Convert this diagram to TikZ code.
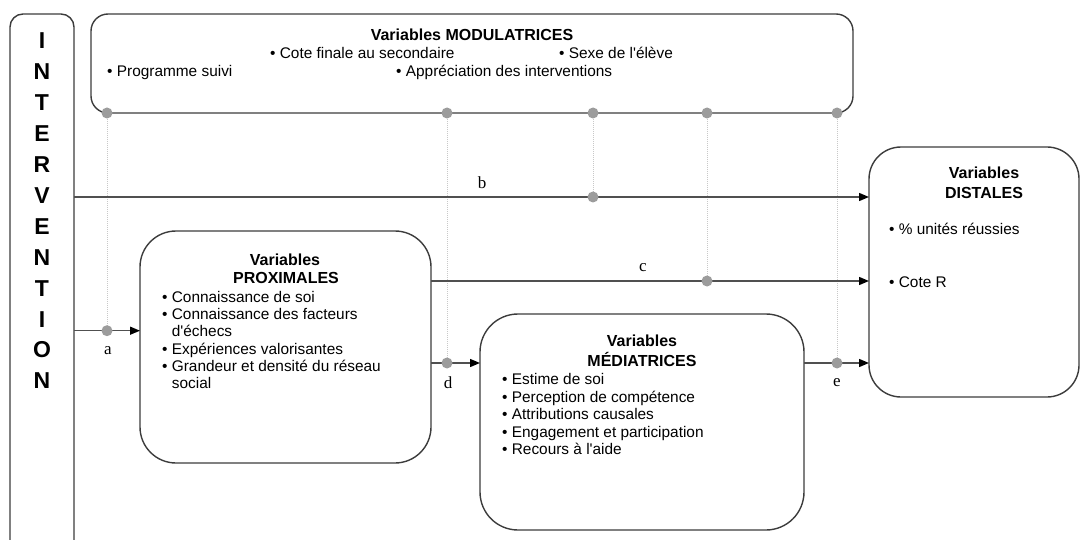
\documentclass[tikz,border=0pt]{standalone}
\usepackage{fontspec}
\setmainfont{Liberation Sans}
\newfontfamily\serifl{Liberation Serif}
\usetikzlibrary{arrows.meta}
\definecolor{boxc}{HTML}{3C3C3C}
\definecolor{linec}{HTML}{505050}
\definecolor{dotc}{HTML}{9C9C9C}
\definecolor{dashc}{HTML}{C8C8C8}
\newcommand{\apos}{\textquotesingle}
\begin{document}
\begin{tikzpicture}[x=1pt,y=-1pt,
  vbox/.style={draw=boxc, line width=1.4pt, rounded corners=#1, inner sep=0pt, outer sep=0pt, fill=white, anchor=north west},
  conn/.style={draw=linec, line width=1.4pt, -{Triangle[length=10pt,width=8pt,color=black]}},
  vline/.style={draw=dashc, line width=0.9pt, dash pattern=on 1pt off 1pt},
  dot/.style={circle, fill=dotc, inner sep=0pt, minimum size=11pt},
  txt/.style={font={\fontsize{15.4}{17}\selectfont}, inner sep=0pt, anchor=base west},
  ttl/.style={font={\fontsize{16}{18}\selectfont\bfseries}, inner sep=0pt, anchor=base},
  lbl/.style={font={\serifl\fontsize{17}{19}\selectfont}, inner sep=0pt},
  letter/.style={font={\fontsize{23}{25}\selectfont\bfseries}, inner sep=0pt}]
\useasboundingbox (0,0) rectangle (1081,540);
% boxes
\begin{scope}
\clip (0,0) rectangle (1081,540);
\node[vbox=13pt, minimum width=64pt, minimum height=570pt] (intervention) at (10,14) {};
\end{scope}
\node[vbox=17pt, minimum width=762pt, minimum height=99pt] (mod) at (91,14) {};
\node[vbox=36pt, minimum width=291pt, minimum height=232pt] (prox) at (140,231) {};
\node[vbox=38pt, minimum width=324pt, minimum height=216pt] (med) at (480,314) {};
\node[vbox=32pt, minimum width=210pt, minimum height=250pt] (dist) at (869,147) {};
% INTERVENTION letters
\foreach \l [count=\i] in {I,N,T,E,R,V,E,N,T,I,O,N}
  \node[letter] (L\i) at (42,{41+30.9*(\i-1)}) {\l};
% modulatrices text
\node[ttl] (mtitle) at (472,40.7) {Variables MODULATRICES};
\node[txt] (mcote) at (270,59) {• Cote finale au secondaire};
\node[txt] (msexe) at (559,59) {• Sexe de l\apos élève};
\node[txt] (mprog) at (107,76.5) {• Programme suivi};
\node[txt] (mappr) at (396,76.5) {• Appréciation des interventions};
% proximales text
\node[ttl] (pt1) at (285,265.7) {Variables};
\node[ttl] (pt2) at (286,283.7) {PROXIMALES};
\foreach \t [count=\i] in {• Connaissance de soi, • Connaissance des facteurs, \phantom{• }d\apos échecs, • Expériences valorisantes, • Grandeur et densité du réseau, \phantom{• }social}
  \node[txt] (p\i) at (162,{302.5+17.2*(\i-1)}) {\t};
% mediatrices text
\node[ttl] (mt1) at (642,346.7) {Variables};
\node[ttl] (mt2) at (642,366.7) {MÉDIATRICES};
\foreach \t [count=\i] in {• Estime de soi, • Perception de compétence, • Attributions causales, • Engagement et participation, • Recours à l\apos aide}
  \node[txt] (md\i) at (502,{384.5+17.5*(\i-1)}) {\t};
% distales text
\node[ttl] (dt1) at (984,178.7) {Variables};
\node[ttl] (dt2) at (984,198.7) {DISTALES};
\node[txt] (di1) at (889,234.5) {• \% unités réussies};
\node[txt] (di2) at (889,287.5) {• Cote R};
% line levels
\coordinate (ya) at (0,330.7);
\coordinate (yb) at (0,197);
\coordinate (yc) at (0,281);
\coordinate (yd) at (0,363);
% dot positions
\coordinate (da) at (107,330.7);
\coordinate (dd) at (447,363);
\coordinate (db) at (593,197);
\coordinate (dc) at (707,281);
\coordinate (de) at (837,363);
% dotted verticals
\foreach \d in {da,dd,db,dc,de}
  \draw[vline] (mod.south -| \d) -- (\d);
% connectors
\draw[conn] (intervention.east |- yb) -- (dist.west |- yb);
\draw[conn] (intervention.east |- ya) -- (prox.west |- ya);
\draw[conn] (prox.east |- yc) -- (dist.west |- yc);
\draw[conn] (prox.east |- yd) -- (med.west |- yd);
\draw[conn] (med.east |- yd) -- (dist.west |- yd);
% dots
\foreach \d in {da,dd,db,dc,de}{
  \node[dot] (bot\d) at (\d) {};
  \node[dot] (top\d) at (mod.south -| \d) {};
}
% labels
\node[lbl] (la) at (108,351) {a};
\node[lbl] (lb) at (482,183) {b};
\node[lbl] (lc) at (643,268) {c};
\node[lbl] (ld) at (448,383) {d};
\node[lbl] (le) at (837,383) {e};
\end{tikzpicture}
\end{document}
